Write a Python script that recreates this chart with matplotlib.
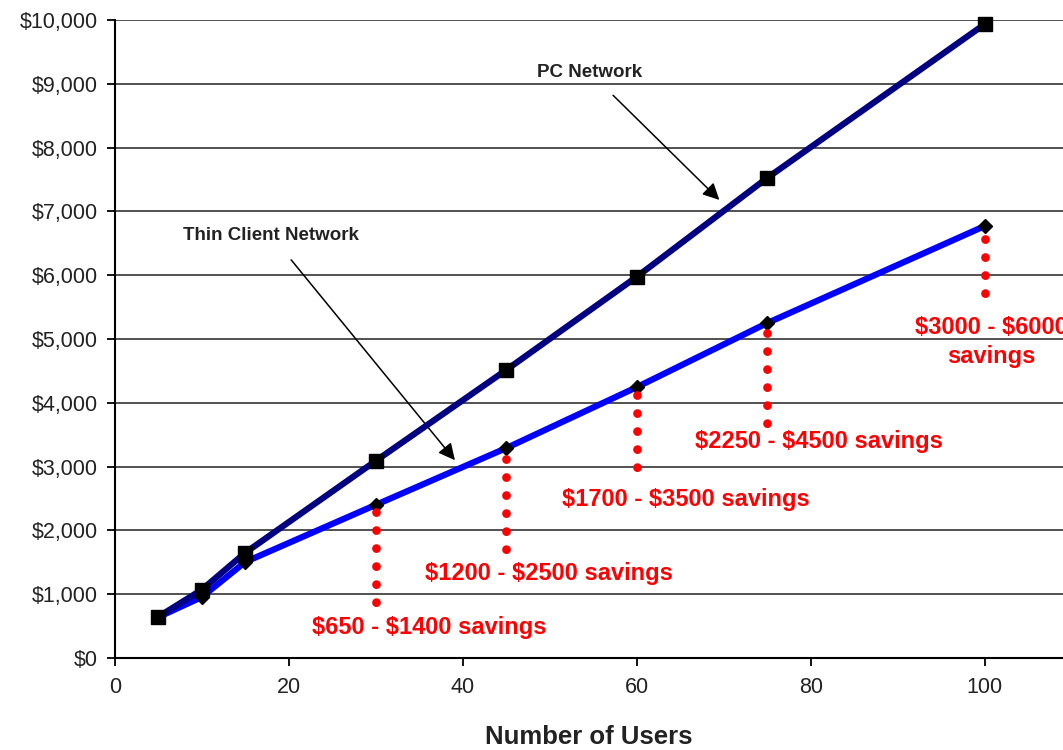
import matplotlib
matplotlib.use("Agg")
import matplotlib.pyplot as plt
from matplotlib.ticker import FuncFormatter

plt.rcParams['font.family'] = ['Liberation Sans', 'DejaVu Sans']

# data
users = [5, 10, 15, 30, 45, 60, 75, 100]
pc_cost = [645, 1070, 1650, 3090, 4515, 5975, 7525, 9935]
thin_cost = [640, 955, 1505, 2400, 3290, 4245, 5250, 6770]

# red dotted "savings" markers
save_users = [30, 45, 60, 75, 100]
save_top = [2290, 3120, 4120, 5090, 6570]
save_bottom = [820, 1640, 2920, 3600, 5680]
save_labels = ["$650 - $1400 savings", "$1200 - $2500 savings",
               "$1700 - $3500 savings", "$2250 - $4500 savings",
               "$3000 - $6000\nsavings"]
label_pos = [(36.2, 470), (49.9, 1330), (65.6, 2480), (80.9, 3390), (100.8, 4950)]

fig = plt.figure(figsize=(10.63, 7.5), dpi=100)
ax = fig.add_axes([0.108, 0.1227, 0.892, 0.8506])

ax.set_xlim(0, 109)
ax.set_ylim(0, 10000)
ax.set_xticks([0, 20, 40, 60, 80, 100])
ax.set_yticks(range(0, 10001, 1000))
ax.yaxis.set_major_formatter(FuncFormatter(lambda v, p: "${:,.0f}".format(v)))
ax.grid(axis='y', color='#222222', lw=1.1)
ax.set_axisbelow(True)
for s in ['top', 'right']:
    ax.spines[s].set_visible(False)
for s in ['left', 'bottom']:
    ax.spines[s].set_linewidth(1.5)
ax.tick_params(axis='both', labelsize=15.5, labelcolor='#222222', width=1.3, length=6)
ax.tick_params(axis='x', pad=8)
ax.tick_params(axis='y', pad=6)

ax.plot(users, pc_cost, color='#000080', lw=4.5, marker='s', ms=9.5,
        mfc='black', mec='black', clip_on=False, zorder=4)
ax.plot(users, thin_cost, color='#0000ff', lw=4.5, marker='D', ms=7,
        mfc='black', mec='black', clip_on=False, zorder=3)

for x, t, b in zip(save_users, save_top, save_bottom):
    ax.plot([x, x], [t, b], color='red', lw=6.3, linestyle=(0, (0.01, 2.05)),
            solid_capstyle='round', dash_capstyle='round', zorder=5)

for lab, (lx, ly) in zip(save_labels, label_pos):
    ax.text(lx, ly, lab, color='red', fontsize=17, fontweight='bold',
            ha='center', va='center', linespacing=1.3, clip_on=False,
            parse_math=False)

ax.annotate("PC Network", xy=(69.5, 7180), xytext=(54.6, 9180),
            fontsize=13.5, fontweight='bold', color='#222222',
            ha='center', va='center',
            arrowprops=dict(arrowstyle='-|>', color='black', lw=1.1,
                            mutation_scale=25, shrinkA=12, shrinkB=0))
ax.annotate("Thin Client Network", xy=(39.1, 3100), xytext=(18.0, 6620),
            fontsize=13.5, fontweight='bold', color='#222222',
            ha='center', va='center',
            arrowprops=dict(arrowstyle='-|>', color='black', lw=1.1,
                            mutation_scale=25, shrinkA=12, shrinkB=0))

ax.set_xlabel("Number of Users", fontsize=18.5, fontweight='bold',
              color='#222222', labelpad=19)

fig.savefig("out.png", dpi=100)
